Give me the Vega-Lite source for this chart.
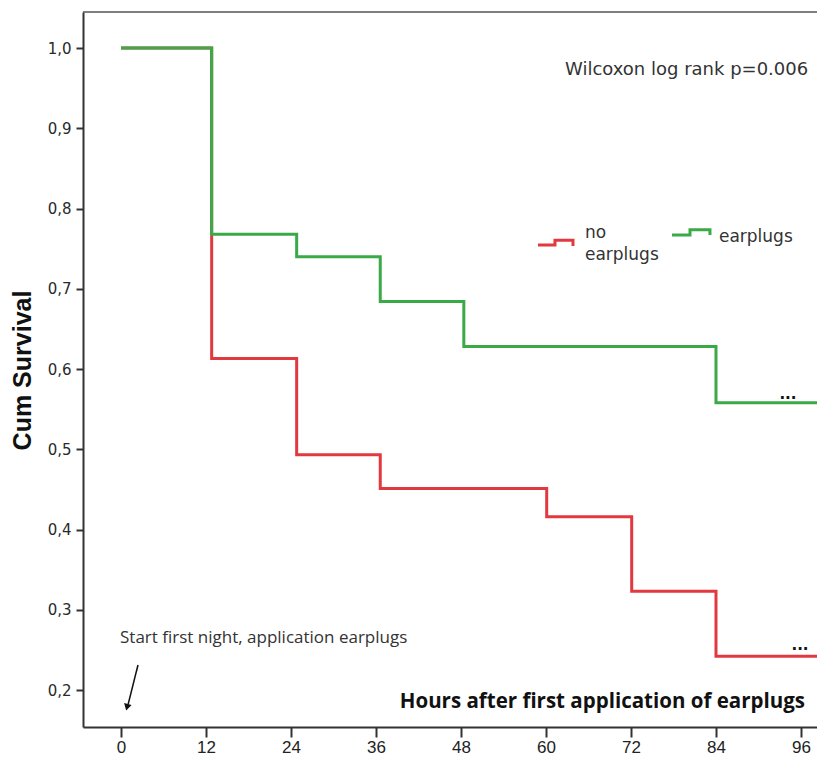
{
  "$schema": "https://vega.github.io/schema/vega-lite/v6.json",
  "width": 734,
  "height": 715,
  "autosize": {"type": "none"},
  "padding": {"left": 83, "top": 12, "right": 0, "bottom": 32},
  "background": "white",
  "config": {"view": {"stroke": null}, "axis": {"grid": false}},
  "datasets": {
    "curves": [
      {"group": "no earplugs", "h": 0, "s": 1.0},
      {"group": "no earplugs", "h": 12.8, "s": 0.613},
      {"group": "no earplugs", "h": 24.8, "s": 0.493},
      {"group": "no earplugs", "h": 36.6, "s": 0.451},
      {"group": "no earplugs", "h": 60.1, "s": 0.416},
      {"group": "no earplugs", "h": 72.1, "s": 0.323},
      {"group": "no earplugs", "h": 84.0, "s": 0.242},
      {"group": "no earplugs", "h": 99, "s": 0.242},
      {"group": "earplugs", "h": 0, "s": 1.0},
      {"group": "earplugs", "h": 12.8, "s": 0.768},
      {"group": "earplugs", "h": 24.8, "s": 0.740},
      {"group": "earplugs", "h": 36.6, "s": 0.684},
      {"group": "earplugs", "h": 48.4, "s": 0.628},
      {"group": "earplugs", "h": 84.0, "s": 0.558},
      {"group": "earplugs", "h": 99, "s": 0.558}
    ],
    "legendIcons": [
      {"group": "no earplugs", "k": 1, "h": 58.87, "s": 0.7545},
      {"group": "no earplugs", "k": 2, "h": 61.27, "s": 0.7545},
      {"group": "no earplugs", "k": 3, "h": 61.27, "s": 0.7605},
      {"group": "no earplugs", "k": 4, "h": 63.81, "s": 0.7605},
      {"group": "no earplugs", "k": 5, "h": 63.81, "s": 0.7533},
      {"group": "earplugs", "k": 1, "h": 77.79, "s": 0.767},
      {"group": "earplugs", "k": 2, "h": 80.33, "s": 0.767},
      {"group": "earplugs", "k": 3, "h": 80.33, "s": 0.7735},
      {"group": "earplugs", "k": 4, "h": 83.15, "s": 0.7735},
      {"group": "earplugs", "k": 5, "h": 83.15, "s": 0.767}
    ]
  },
  "layer": [
    {
      "data": {"values": [{"s": 1.04486}]},
      "mark": {"type": "rule", "color": "#555", "strokeWidth": 1.5},
      "encoding": {"y": {"field": "s", "type": "quantitative"}}
    },
    {
      "data": {"name": "curves"},
      "transform": [{"filter": "datum.group === 'no earplugs'"}],
      "mark": {"type": "line", "interpolate": "step-after", "strokeWidth": 3, "color": "#e2383f", "clip": true},
      "encoding": {
        "x": {
          "field": "h", "type": "quantitative",
          "scale": {"domain": [-5.365, 98.26], "nice": false, "zero": false},
          "axis": {
            "title": null, "values": [0, 12, 24, 36, 48, 60, 72, 84, 96],
            "domainColor": "#333", "domainWidth": 2, "tickColor": "#333", "tickWidth": 2, "tickSize": 10,
            "labelFont": "Liberation Sans Narrow, Liberation Sans, sans-serif", "labelFontSize": 17, "labelColor": "#222", "labelPadding": 2
          }
        },
        "y": {
          "field": "s", "type": "quantitative",
          "scale": {"domain": [0.1539, 1.04486], "nice": false, "zero": false},
          "axis": {
            "values": [0.2, 0.3, 0.4, 0.5, 0.6, 0.7, 0.8, 0.9, 1.0],
            "labelExpr": "replace(format(datum.value, '.1f'), '.', ',')",
            "domainColor": "#333", "domainWidth": 2, "tickColor": "#333", "tickWidth": 2, "tickSize": 7,
            "labelFont": "DejaVu Sans", "labelFontSize": 15, "labelColor": "#2a2a2a", "labelPadding": 5,
            "title": "Cum Survival", "titleFont": "Liberation Sans Narrow, Liberation Sans, sans-serif", "titleFontSize": 25, "titleFontWeight": "bold", "titleColor": "#111",
            "titleAngle": -90, "titleX": -61, "titleY": 358, "titleAlign": "center", "titleBaseline": "middle"
          }
        }
      }
    },
    {
      "data": {"name": "curves"},
      "transform": [{"filter": "datum.group === 'earplugs'"}],
      "mark": {"type": "line", "interpolate": "step-after", "strokeWidth": 3, "color": "#3aaa46", "clip": true},
      "encoding": {
        "x": {"field": "h", "type": "quantitative"},
        "y": {"field": "s", "type": "quantitative"}
      }
    },
    {
      "data": {"name": "legendIcons"},
      "mark": {"type": "line", "strokeWidth": 3},
      "encoding": {
        "x": {"field": "h", "type": "quantitative"},
        "y": {"field": "s", "type": "quantitative"},
        "order": {"field": "k", "type": "quantitative"},
        "color": {"field": "group", "type": "nominal", "scale": {"domain": ["no earplugs", "earplugs"], "range": ["#e2383f", "#3aaa46"]}, "legend": null}
      }
    },
    {
      "data": {"values": [
        {"h": 65.5, "s": 0.7632, "t": "no"},
        {"h": 65.5, "s": 0.7358, "t": "earplugs"},
        {"h": 84.42, "s": 0.7583, "t": "earplugs"}
      ]},
      "mark": {"type": "text", "align": "left", "baseline": "alphabetic", "font": "DejaVu Sans", "fontSize": 17, "color": "#333"},
      "encoding": {
        "x": {"field": "h", "type": "quantitative"},
        "y": {"field": "s", "type": "quantitative"},
        "text": {"field": "t"}
      }
    },
    {
      "data": {"values": [{"h": 62.68, "s": 0.9726, "t": "Wilcoxon log rank p=0.006"}]},
      "mark": {"type": "text", "align": "left", "baseline": "middle", "font": "DejaVu Sans", "fontSize": 18, "color": "#333"},
      "encoding": {
        "x": {"field": "h", "type": "quantitative"},
        "y": {"field": "s", "type": "quantitative"},
        "text": {"field": "t"}
      }
    },
    {
      "data": {"values": [{"h": -0.14, "s": 0.2648, "t": "Start first night, application earplugs"}]},
      "mark": {"type": "text", "align": "left", "baseline": "middle", "font": "Open Sans", "fontSize": 17, "color": "#333"},
      "encoding": {
        "x": {"field": "h", "type": "quantitative"},
        "y": {"field": "s", "type": "quantitative"},
        "text": {"field": "t"}
      }
    },
    {
      "data": {"values": [{"h": 96.56, "s": 0.185, "t": "Hours after first application of earplugs"}]},
      "mark": {"type": "text", "align": "right", "baseline": "middle", "font": "Open Sans", "fontWeight": "bold", "fontSize": 20.5, "color": "#111"},
      "encoding": {
        "x": {"field": "h", "type": "quantitative"},
        "y": {"field": "s", "type": "quantitative"},
        "text": {"field": "t"}
      }
    },
    {
      "data": {"values": [
        {"h": 94.16, "s": 0.563, "t": "..."},
        {"h": 95.86, "s": 0.250, "t": "..."}
      ]},
      "mark": {"type": "text", "align": "center", "baseline": "alphabetic", "font": "DejaVu Sans", "fontWeight": "bold", "fontSize": 15, "color": "#111"},
      "encoding": {
        "x": {"field": "h", "type": "quantitative"},
        "y": {"field": "s", "type": "quantitative"},
        "text": {"field": "t"}
      }
    },
    {
      "data": {"values": [
        {"k": 1, "h": 2.4, "s": 0.2312},
        {"k": 2, "h": 1.0, "s": 0.1820}
      ]},
      "mark": {"type": "line", "strokeWidth": 1.5, "color": "#111"},
      "encoding": {
        "x": {"field": "h", "type": "quantitative"},
        "y": {"field": "s", "type": "quantitative"},
        "order": {"field": "k", "type": "quantitative"}
      }
    },
    {
      "data": {"values": [{"h": 0.85, "s": 0.1785}]},
      "mark": {"type": "point", "shape": "triangle-down", "filled": true, "size": 60, "angle": 14, "color": "#111", "opacity": 1},
      "encoding": {
        "x": {"field": "h", "type": "quantitative"},
        "y": {"field": "s", "type": "quantitative"}
      }
    }
  ]
}
